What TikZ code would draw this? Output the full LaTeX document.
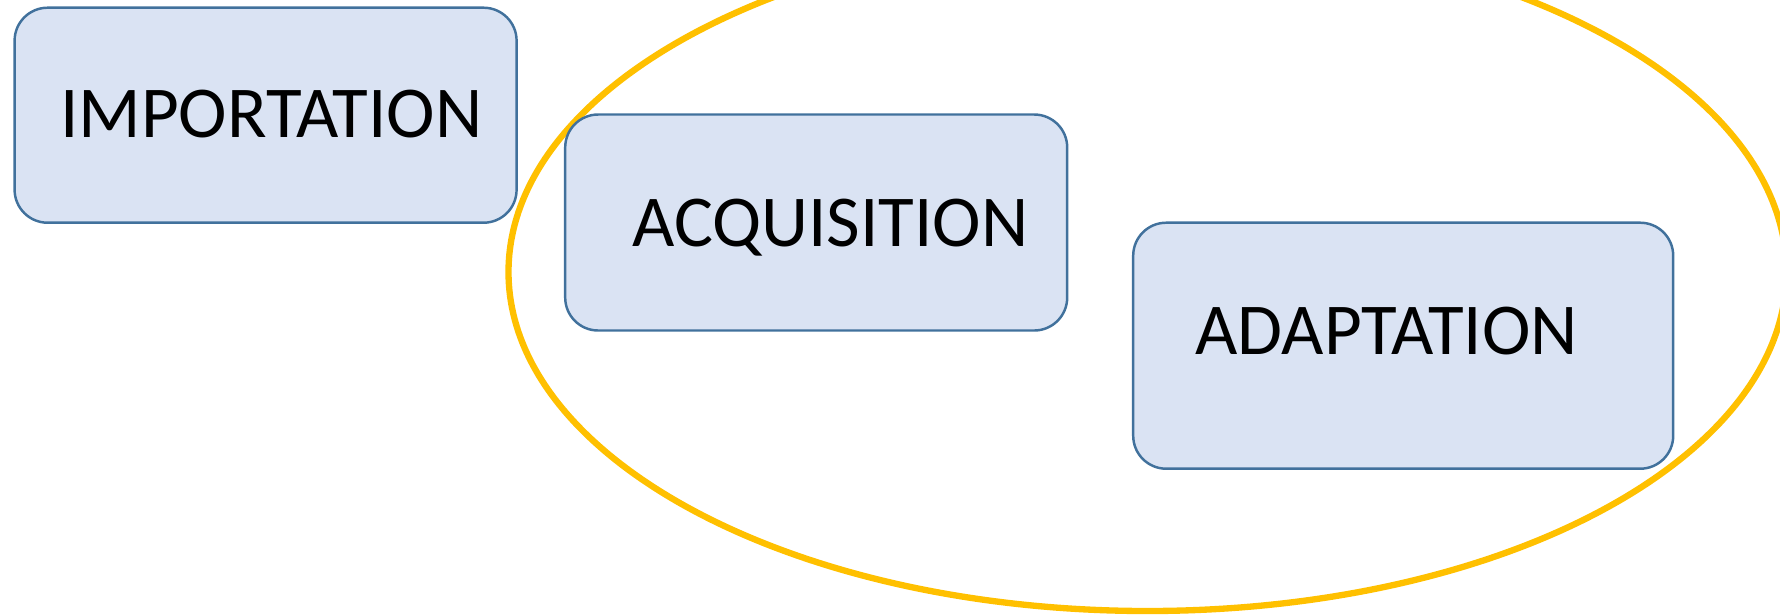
\documentclass[tikz,border=0pt]{standalone}
\usepackage{fontspec}
\setmainfont{Carlito}
\definecolor{boxblue}{HTML}{DAE3F3}
\definecolor{edgeblue}{HTML}{41719C}
\definecolor{ringgold}{HTML}{FFC000}
\usetikzlibrary{positioning}

\begin{document}
\begin{tikzpicture}[every node/.style={font=\fontsize{20.8}{24}\selectfont},
  bx/.style={rounded corners=0.33cm, draw=edgeblue, fill=boxblue, line width=0.7pt, inner sep=0pt},
  lbl/.style={anchor=base, inner sep=0pt}]
\useasboundingbox (0,0) rectangle (17.8,-6.14);
\clip (0,0) rectangle (17.8,-6.14);
% Ring
\draw[ringgold, line width=1.8pt] (11.475,-2.72) ellipse (6.39cm and 3.39cm);
% Boxes
\node[bx, minimum width=5.02cm, minimum height=2.15cm] (imp) at (2.656,-1.152) {};
\node[bx, minimum width=5.02cm, minimum height=2.16cm] (acq) at (8.162,-2.225) {};
\node[bx, minimum width=5.40cm, minimum height=2.46cm] (ada) at (14.032,-3.457) {};
% Labels
\node[lbl] (impt) at (2.713,-1.374) {IMPORTATION};
\node[lbl] (acqt) at (8.304,-2.463) {ACQUISITION};
\node[lbl] (adat) at (13.866,-3.542) {ADAPTATION};
\end{tikzpicture}
\end{document}
